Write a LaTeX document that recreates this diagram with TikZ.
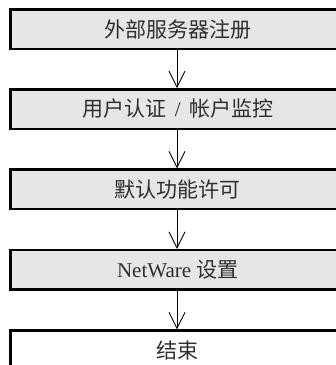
\documentclass[tikz,border=0pt]{standalone}
\usepackage{fontspec}
\setmainfont{Liberation Serif}
\newfontfamily\cjk{Noto Sans CJK SC}
\usetikzlibrary{arrows.meta}
\definecolor{boxgray}{HTML}{E6E6E6}
\definecolor{txtgray}{HTML}{2E2E2E}
\begin{document}
\begin{tikzpicture}[x=1pt,y=-1pt,
  stepbox/.style={draw=black,line width=2.5pt,fill=boxgray,minimum width=334.5pt,
    minimum height=39.5pt,inner sep=0pt,text=txtgray,font=\fontsize{21}{24}\selectfont},
  endbox/.style={stepbox,fill=white},
  arr/.style={line width=0.8pt,-{Straight Barb[length=16pt,width=16pt,line width=0.8pt]}}]
\useasboundingbox (0,0) rectangle (336,365);
\clip (0,0) rectangle (336,365);
\node[stepbox] (b1) at (177.75,29.25) {\cjk 外部服务器注册};
\node[stepbox] (b2) at (177.75,109) {{\cjk 用户认证}\hspace{0.4em}/\hspace{0.4em}{\cjk 帐户监控}};
\node[stepbox] (b3) at (177.75,189.25) {\cjk 默认功能许可};
\node[stepbox] (b4) at (177.75,269.75) {NetWare {\cjk 设置}};
\node[endbox] (b5) at (177.75,350.25) {\cjk 结束};
\draw[arr] (b1.south -| 177,0) -- (b2.north -| 177,0);
\draw[arr] (b2.south -| 177,0) -- (b3.north -| 177,0);
\draw[arr] (b3.south -| 177,0) -- (b4.north -| 177,0);
\draw[arr] (b4.south -| 177,0) -- (b5.north -| 177,0);
\end{tikzpicture}
\end{document}
